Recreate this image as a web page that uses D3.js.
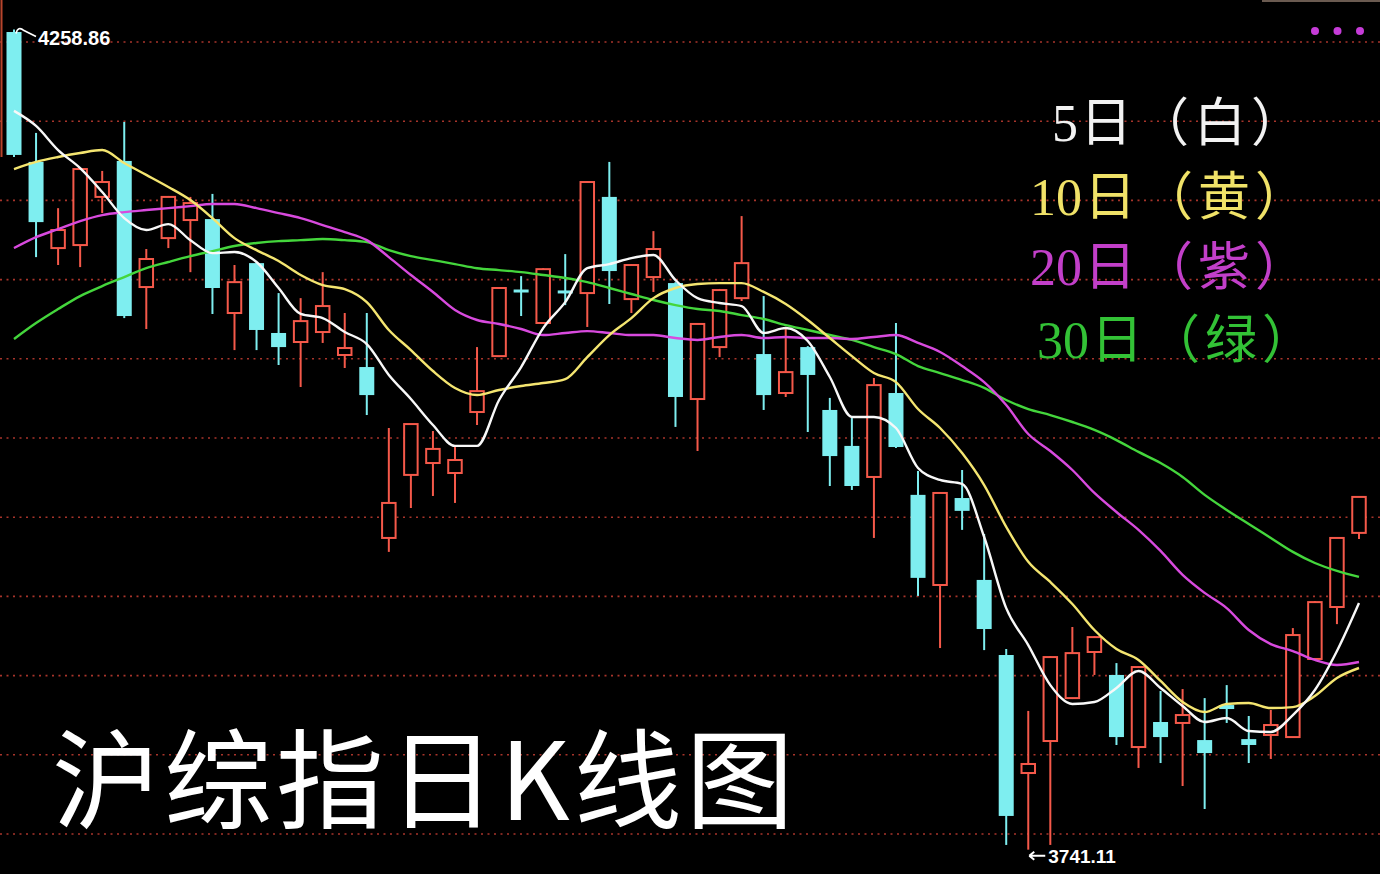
<!DOCTYPE html>
<html><head><meta charset="utf-8">
<script src="https://cdn.jsdelivr.net/npm/d3@7"></script>
<style>html,body{margin:0;padding:0;background:#000;overflow:hidden}</style>
</head><body><svg id="c" width="1380" height="874"></svg>
<script>
// ---- data (Shanghai Composite daily K-line) ----
const open=[4257.3,4175.3,4120.9,4122.8,4153.2,4175.9,4096.3,4127.2,4138.6,4139.2,4079.9,4111.4,4067.3,4061.6,4067.9,4053.4,4045.8,3937.9,3977.7,3985.2,3978.9,4017.4,4052.7,4093.8,4073.6,4093.2,4092.5,4153.2,4088.7,4102.6,4098.8,4025.6,4058.4,4089.3,4054.0,4029.4,4058.4,4018.7,3996.0,3976.4,4029.4,3965.1,3908.2,3963.1,3911.4,3864.0,3789.5,3809.7,3836.8,3865.9,3851.4,3805.9,3821.7,3821.1,3810.3,3832.4,3810.9,3813.5,3812.2,3861.5,3894.3,3941.1];
const high=[4258.86,4193.6,4146.1,4171.4,4169.6,4200.5,4120.3,4153.8,4153.2,4155.1,4110.2,4112.1,4092.5,4089.3,4105.7,4079.9,4079.9,4007.3,4009.8,4005.4,3995.3,4058.4,4096.3,4103.2,4108.2,4117.1,4163.2,4175.3,4110.8,4131.6,4099.4,4073.6,4095.1,4141.1,4090.6,4071.1,4059.0,4026.3,4013.6,4038.9,4073.6,3980.2,3966.9,3980.8,3940.4,3867.8,3828.7,3863.3,3881.7,3875.9,3858.9,3857.0,3841.3,3842.5,3836.8,3845.0,3825.5,3829.3,3881.0,3898.0,3938.5,3964.4];
const low=[4178.4,4115.2,4110.2,4108.9,4143.0,4076.7,4069.8,4120.9,4105.7,4079.3,4056.5,4056.5,4047.1,4033.2,4061.0,4045.2,4015.5,3929.1,3956.8,3964.4,3960.0,4009.2,4052.1,4078.0,4073.0,4084.9,4071.1,4085.6,4079.9,4093.2,4008.0,3992.8,4052.1,4087.5,4018.7,4026.9,4004.8,3970.7,3968.2,3937.9,3994.7,3901.3,3868.4,3943.0,3867.1,3744.1,3741.11,3744.1,3836.2,3851.4,3807.2,3792.7,3795.8,3781.3,3766.8,3821.1,3795.8,3798.4,3811.6,3860.9,3883.5,3937.3];
const close=[4179.7,4137.3,4132.3,4170.8,4162.6,4078.0,4114.0,4153.2,4149.3,4095.7,4099.4,4069.2,4058.4,4074.8,4084.3,4057.8,4028.1,3960.0,4009.8,3994.1,3987.1,4030.6,4095.7,4092.5,4107.6,4091.9,4162.6,4106.4,4110.2,4120.3,4026.9,4073.0,4094.4,4111.4,4028.1,4042.6,4040.8,3989.6,3970.7,4034.4,3995.3,3912.7,3966.3,3955.0,3880.4,3762.4,3795.2,3862.7,3865.2,3875.3,3812.2,3856.4,3812.2,3826.1,3802.1,3829.9,3807.2,3819.8,3876.6,3897.4,3937.9,3963.8];
const ma5=[4207.5,4198.0,4182.8,4171.4,4156.3,4139.8,4132.3,4136.0,4125.9,4117.7,4118.4,4112.1,4095.7,4079.3,4076.7,4067.9,4060.3,4040.8,4025.6,4009.2,3996.0,3996.0,4025.0,4045.8,4070.4,4086.8,4108.2,4110.8,4114.6,4116.5,4100.7,4089.3,4086.2,4084.3,4067.3,4070.4,4062.2,4039.5,4014.3,4014.3,4007.3,3982.1,3974.5,3972.0,3938.5,3893.6,3870.3,3845.0,3833.1,3834.3,3843.2,3853.9,3843.2,3831.8,3821.7,3824.2,3816.0,3815.4,3826.1,3841.9,3866.5,3896.8];
const ma10=[4170.8,4175.3,4178.4,4180.9,4182.8,4174.6,4167.1,4159.5,4151.2,4139.8,4127.2,4119.6,4112.7,4103.9,4097.5,4095.0,4086.8,4069.2,4056.5,4043.3,4032.6,4028.1,4031.3,4033.8,4035.7,4038.2,4052.1,4066.0,4076.7,4089.3,4095.7,4098.2,4098.8,4098.8,4093.2,4085.6,4075.5,4064.1,4052.7,4042.0,4036.3,4019.3,4007.3,3991.5,3971.3,3944.9,3922.8,3910.1,3896.2,3879.8,3867.8,3860.9,3847.6,3834.3,3828.0,3833.1,3833.7,3830.5,3831.1,3838.1,3849.5,3855.8];
const ma20=[4120.9,4127.8,4132.9,4137.9,4141.7,4143.6,4144.9,4146.1,4147.4,4148.7,4148.7,4146.1,4143.0,4139.8,4135.4,4131.0,4125.9,4115.2,4103.9,4093.2,4081.8,4075.5,4073.0,4069.8,4066.0,4067.3,4068.5,4067.3,4066.0,4066.0,4064.1,4062.9,4064.8,4066.0,4064.1,4064.8,4064.1,4064.1,4063.5,4064.8,4066.0,4061.0,4055.3,4046.4,4036.3,4021.8,4003.5,3992.8,3980.8,3966.3,3954.3,3943.0,3929.7,3914.6,3903.2,3893.6,3879.8,3870.9,3866.5,3860.9,3857.7,3859.6];
const ma30=[4063.5,4073.6,4082.4,4090.6,4096.9,4102.6,4108.2,4112.1,4115.8,4119.0,4122.2,4124.1,4125.3,4125.9,4126.6,4125.9,4124.7,4119.6,4115.8,4113.3,4110.8,4108.2,4107.0,4105.7,4103.9,4102.0,4099.4,4095.7,4091.9,4088.1,4084.9,4082.4,4081.2,4078.6,4076.1,4072.3,4069.2,4066.0,4062.9,4058.4,4054.0,4046.4,4042.0,4037.6,4032.6,4025.0,4019.3,4015.5,4011.1,4006.1,3999.7,3992.2,3985.2,3976.4,3965.1,3955.6,3946.7,3937.9,3929.1,3922.1,3917.1,3913.3];
const gridPrices=[4251,4201,4151,4101,4051,4001,3951,3901,3851,3801,3751];
const legendDays=['5','10','20','30'];
const legendNames=['日（白）','日（黄）','日（紫）','日（绿）'];
const legendColors=['#f2f2f2','#f0e268','#c23fc9','#33c236'];
const titleText='沪综指日K线图';
const maxLabel='4258.86', minLabel='3741.11';

// ---- drawing ----
const W=1380,H=874;
const RED='#f5594a', CYAN='#7eeef0';
const svg=d3.select('#c');
svg.append('rect').attr('width',W).attr('height',H).attr('fill','#000');
const n=open.length;
const x=d3.scaleLinear().domain([0,n-1]).range([14,1359]);
const y=d3.scaleLinear().domain([3751,4251]).range([834,42]);

// grid
svg.append('g').selectAll('line').data(gridPrices).join('line')
  .attr('x1',0).attr('x2',W).attr('y1',d=>y(d)).attr('y2',d=>y(d))
  .attr('stroke','#a8342b').attr('stroke-width',1.6).attr('stroke-dasharray','2 4.5');

// edge decorations
svg.append('line').attr('x1',1.5).attr('x2',1.5).attr('y1',0).attr('y2',157).attr('stroke','#b8452c').attr('stroke-width',2);
svg.append('line').attr('x1',1262).attr('x2',W).attr('y1',1).attr('y2',1).attr('stroke','#6a5a50').attr('stroke-width',2);
svg.append('g').selectAll('circle').data([0,1,2]).join('circle')
  .attr('cx',d=>1315+d*22.5).attr('cy',31).attr('r',4).attr('fill','#c63cd8');

// candles
const data=open.map((o,i)=>({i,o,h:high[i],l:low[i],c:close[i],up:close[i]>open[i]}));
const cg=svg.append('g');
cg.selectAll('line').data(data).join('line')
  .attr('x1',d=>x(d.i)).attr('x2',d=>x(d.i))
  .attr('y1',d=>y(d.h)).attr('y2',d=>y(d.l))
  .attr('stroke',d=>d.up?RED:CYAN).attr('stroke-width',2);
cg.selectAll('rect').data(data).join('rect')
  .attr('x',d=>x(d.i)-(d.up?6.75:7.5))
  .attr('width',d=>d.up?13.5:15)
  .attr('y',d=>Math.min(y(d.o),y(d.c)) - (Math.abs(y(d.o)-y(d.c))<3?1.5:0))
  .attr('height',d=>Math.max(Math.abs(y(d.o)-y(d.c)),3))
  .attr('fill',d=>d.up?'#000':CYAN)
  .attr('stroke',d=>d.up?RED:'none').attr('stroke-width',2);

// moving averages
const line=d3.line().x((d,i)=>x(i)).y(d=>y(d)).curve(d3.curveMonotoneX);
[[ma30,'#44d63c'],[ma20,'#d84ade'],[ma10,'#f4e570'],[ma5,'#f8f8f8']].forEach(([arr,col])=>{
  svg.append('path').datum(arr).attr('d',line).attr('fill','none')
    .attr('stroke',col).attr('stroke-width',2.4).attr('stroke-linejoin','round');
});

// legend
const lx=[1052,1030,1030,1037], ly=[141,215,285,358];
const lg=svg.append('g').selectAll('text').data(legendDays).join('text')
  .attr('x',(d,i)=>lx[i]).attr('y',(d,i)=>ly[i])
  .attr('fill',(d,i)=>legendColors[i])
  .style('font-size','52px');
lg.append('tspan').style('font-family','"Liberation Serif",serif').text(d=>d);
lg.append('tspan').attr('dx',2).style('font-family','"Noto Sans CJK SC",sans-serif')
  .style('letter-spacing','5px').text((d,i)=>legendNames[i]);

// title
svg.append('text').attr('x',52).attr('y',820).attr('fill','#fff')
  .style('font-family','"Noto Sans CJK SC",sans-serif').style('font-size','108px')
  .style('letter-spacing','4px').text(titleText);

// max / min annotations
const x0=x(0), y0=y(high[0]);
svg.append('path').attr('d',`M${x0+2},${y0+4} Q${x0+4},${y0-4} ${x0+10},${y0+1} L${x0+22},${y0+7}`)
  .attr('fill','none').attr('stroke','#fff').attr('stroke-width',1.6);
svg.append('text').attr('x',x0+24).attr('y',y0+15).attr('fill','#fff')
  .style('font-family','"Liberation Sans",Arial,sans-serif').style('font-size','20px').style('font-weight','bold')
  .text(maxLabel);
const iMin=low.indexOf(d3.min(low));
const ax=x(iMin), ay=y(low[iMin])+6;
svg.append('path').attr('d',`M${ax+1},${ay} L${ax+17},${ay} M${ax+1},${ay} L${ax+6},${ay-4} M${ax+1},${ay} L${ax+6},${ay+4}`)
  .attr('fill','none').attr('stroke','#fff').attr('stroke-width',2);
svg.append('text').attr('x',ax+20).attr('y',ay+7).attr('fill','#fff')
  .style('font-family','"Liberation Sans",Arial,sans-serif').style('font-size','19px').style('font-weight','bold')
  .text(minLabel);
</script></body></html>
